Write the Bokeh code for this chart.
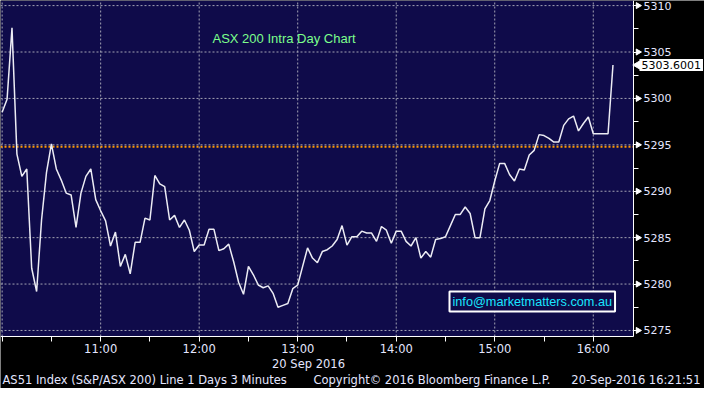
import math
from bokeh.plotting import figure
from bokeh.models import FixedTicker, Range1d, Label, BoxAnnotation
from bokeh.embed import file_html
from bokeh.resources import INLINE

# --- data -------------------------------------------------------------
# 3-minute bars from 10:00 (minute 0) to 16:12 (minute 372)
minutes = list(range(0, 373, 3))
prices = [
    5298.5, 5299.9, 5307.6, 5294.0, 5291.6, 5292.4, 5281.7, 5279.2, 5286.9, 5292.0,
    5295.1, 5292.4, 5291.2, 5289.8, 5289.6, 5286.1, 5289.8, 5291.6, 5292.4, 5289.1,
    5287.9, 5286.8, 5284.1, 5285.6, 5281.9, 5283.2, 5281.1, 5284.5, 5284.5, 5287.1,
    5286.9, 5291.7, 5290.8, 5290.5, 5286.9, 5287.4, 5286.1, 5286.9, 5285.8, 5283.5,
    5284.2, 5284.2, 5285.9, 5285.9, 5283.6, 5283.8, 5284.3, 5282.4, 5280.2, 5278.9,
    5281.9, 5281.0, 5279.9, 5279.6, 5279.8, 5279.0, 5277.5, 5277.7, 5277.9, 5279.5,
    5279.9, 5281.9, 5283.9, 5282.8, 5282.3, 5283.5, 5283.7, 5284.1, 5284.8, 5286.3,
    5284.2, 5285.1, 5285.1, 5285.7, 5285.5, 5285.5, 5284.6, 5286.2, 5285.8, 5284.4,
    5285.7, 5285.7, 5284.6, 5284.1, 5285.0, 5282.8, 5283.5, 5282.9, 5284.8, 5284.9,
    5285.1, 5286.3, 5287.5, 5287.5, 5288.3, 5287.6, 5285.0, 5285.0, 5288.1, 5289.0,
    5291.1, 5293.0, 5293.0, 5291.8, 5291.1, 5292.4, 5292.3, 5293.9, 5294.4, 5296.1,
    5296.0, 5295.7, 5295.3, 5295.3, 5297.1, 5297.8, 5298.1, 5296.5, 5297.3, 5298.0,
    5296.2, 5296.2, 5296.2, 5296.2, 5303.6,
]
prev_close = 5294.8
last_value_text = "5303.6001"

x_major_ticks = [0, 60, 120, 180, 240, 300, 360]
x_minor_ticks = [30, 90, 150, 210, 270, 330]
x_tick_labels = ["", "11:00", "12:00", "13:00", "14:00", "15:00", "16:00"]
y_major_ticks = [5275, 5280, 5285, 5290, 5295, 5300, 5305, 5310]
y_minor_ticks = [5277.5, 5282.5, 5287.5, 5292.5, 5297.5, 5302.5, 5307.5]

chart_title = "ASX 200 Intra Day Chart"
contact = "info@marketmatters.com.au"
date_text = "20 Sep 2016"
footer_left = "AS51 Index (S&P/ASX 200) Line 1 Days 3 Minutes"
footer_mid = "Copyright\u00a9 2016 Bloomberg Finance L.P."
footer_right = "20-Sep-2016 16:21:51"

# --- layout constants (pixels) ----------------------------------------
W, H = 704, 388
AREA_W, AREA_H = 633, 336          # navy chart area, top-left anchored
X0, X1 = -1.0, 384.5               # minutes visible in the chart area
Y0, Y1 = 5274.35, 5310.55          # prices visible in the chart area
px_x = AREA_W / (X1 - X0)
px_y = AREA_H / (Y1 - Y0)
XR = (X0, X0 + W / px_x)
YR = (Y1 - H / px_y, Y1)

NAVY = "#0f0b4a"
TXT = "#e4e6ff"
FONT = "DejaVu Sans"

p = figure(width=W, height=H, output_backend="svg", toolbar_location=None,
           x_range=Range1d(*XR), y_range=Range1d(*YR),
           y_axis_location="right",
           min_border=0, min_border_left=0, min_border_right=0,
           min_border_top=0, min_border_bottom=0)
p.background_fill_color = "black"
p.border_fill_color = "black"
p.outline_line_color = None
p.grid.visible = False

# navy chart area
p.add_layout(BoxAnnotation(left=X0, right=X1, bottom=Y0, top=Y1, fill_color=NAVY,
                           fill_alpha=1, line_color=None, level="underlay"))

# axes fixed on the chart-area edges
xa = p.xaxis[0]
xa.fixed_location = Y0
xa.bounds = (X0, X1)
xa.ticker = FixedTicker(ticks=x_major_ticks, minor_ticks=x_minor_ticks)
xa.major_label_overrides = {t: l for t, l in zip(x_major_ticks, x_tick_labels)}
ya = p.yaxis[0]
ya.fixed_location = X1
ya.bounds = (Y0, Y1)
ya.ticker = FixedTicker(ticks=y_major_ticks, minor_ticks=y_minor_ticks)

for ax in (xa, ya):
    ax.axis_line_color = "white"
    ax.axis_line_width = 1
    ax.major_tick_line_color = "white"
    ax.minor_tick_line_color = "white"
    ax.major_tick_in = 0
    ax.minor_tick_in = 0
    ax.major_label_text_color = TXT
    ax.major_label_text_font = FONT

xa.major_tick_out = 5
xa.minor_tick_out = 5
xa.major_label_standoff = 0
xa.major_label_text_font_size = "11.5px"
ya.major_tick_out = 7
ya.minor_tick_out = 5
ya.major_label_standoff = 3
ya.major_label_text_font_size = "11px"

# grid lines limited to the chart area
GRID = "#a3a3b3"
p.segment(x0=x_major_ticks, y0=[Y0] * len(x_major_ticks),
          x1=x_major_ticks, y1=[Y1] * len(x_major_ticks),
          line_color=GRID, line_dash="2 2", line_width=1)
p.segment(x0=[X0] * len(y_major_ticks), y0=y_major_ticks,
          x1=[X1] * len(y_major_ticks), y1=y_major_ticks,
          line_color=GRID, line_dash="2 2", line_width=1)

# previous close
p.segment(x0=[X0], y0=[prev_close], x1=[X1], y1=[prev_close],
          line_color="#ff9a00", line_width=2, line_dash="2 2")

# price line
p.line(minutes, prices, line_color="#ececf4", line_width=1.5)

# arrow-head tick marks on the price scale
p.scatter(x=[X1 + 4.5 / px_x] * len(y_major_ticks), y=y_major_ticks, marker="triangle",
          size=6, angle=-math.pi / 2, fill_color="white", line_color="white")

# last-value tag
p.scatter(x=[X1 + 4.5 / px_x], y=[prices[-1]], marker="triangle", size=9,
          angle=math.pi / 2, fill_color="white", line_color="white")
p.add_layout(Label(x=AREA_W + 6, y=prices[-1], x_units="screen", y_units="data",
                   text=last_value_text, text_color="black", text_font=FONT,
                   text_font_size="11px", text_baseline="middle",
                   background_fill_color="white", padding=2))

# annotations (screen units measured from the bottom-left of the canvas)
p.add_layout(Label(x=212, y=H - 38, x_units="screen", y_units="screen", text=chart_title,
                   text_color="#7cff8c", text_font="Liberation Sans",
                   text_font_size="13px", text_baseline="middle"))
p.add_layout(Label(x=449, y=H - 301, x_units="screen", y_units="screen", text=contact,
                   text_color="#19e6ff", text_font="Liberation Sans",
                   text_font_size="12.7px", text_baseline="middle",
                   background_fill_color=NAVY, border_line_color="white",
                   border_line_width=2, padding=3))
p.add_layout(Label(x=308, y=25, x_units="screen", y_units="screen", text=date_text,
                   text_color=TXT, text_font=FONT, text_font_size="11.5px",
                   text_align="center", text_baseline="middle"))
p.add_layout(Label(x=2, y=9, x_units="screen", y_units="screen", text=footer_left,
                   text_color=TXT, text_font=FONT, text_font_size="11.5px",
                   text_baseline="middle"))
p.add_layout(Label(x=313, y=9, x_units="screen", y_units="screen", text=footer_mid,
                   text_color=TXT, text_font=FONT, text_font_size="11.5px",
                   text_baseline="middle"))
p.add_layout(Label(x=700, y=9, x_units="screen", y_units="screen", text=footer_right,
                   text_color=TXT, text_font=FONT, text_font_size="11.5px",
                   text_align="right", text_baseline="middle"))

open("out.html", "w").write(file_html(p, INLINE))
